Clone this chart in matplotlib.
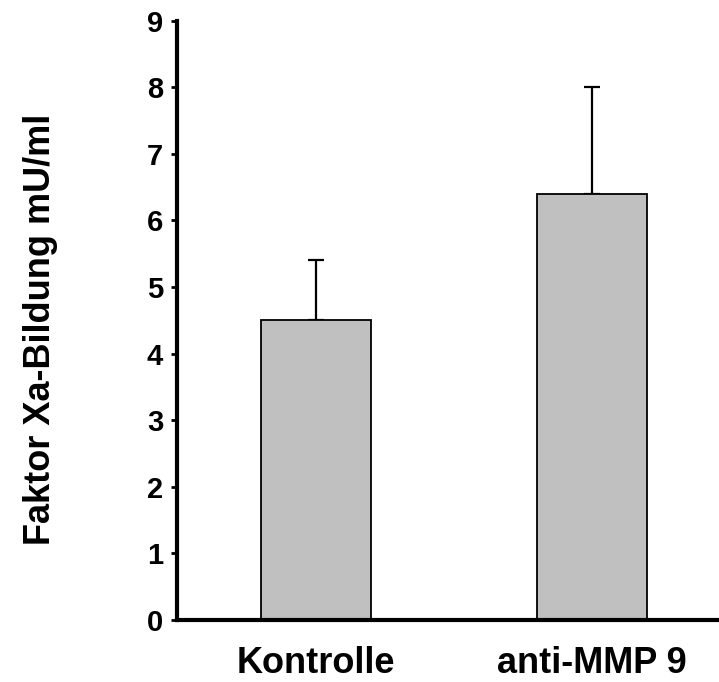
import matplotlib.pyplot as plt
import numpy as np

plt.rcParams['font.family'] = ['Liberation Sans', 'DejaVu Sans']
plt.rcParams['font.weight'] = 'bold'

categories = ['Kontrolle', 'anti-MMP 9']
values = [4.5, 6.4]
errors_up = [0.9, 1.6]
y_ticks = list(range(0, 10))

fig = plt.figure(figsize=(7.19, 6.82), dpi=100)
ax = fig.add_axes([0.2462, 0.0909, 0.7538, 0.8787])

x = np.arange(len(categories))
ax.bar(x, values, width=0.40, color='#c0c0c0', edgecolor='black', linewidth=1.3, zorder=2)
ax.errorbar(x, values, yerr=[[0] * len(values), errors_up], fmt='none',
            ecolor='black', elinewidth=1.6, capsize=5.5, capthick=1.6, zorder=1)

ax.set_xlim(-0.505, 1.46)
ax.set_ylim(0, 9)
ax.set_yticks(y_ticks)
ax.set_xticks(x)
ax.set_xticklabels(categories, fontsize=26, fontweight='bold')
ax.tick_params(axis='y', labelsize=21, width=2, length=4, pad=6)
ax.tick_params(axis='x', length=0, pad=19)
for lab in ax.get_yticklabels():
    lab.set_fontweight('bold')

ax.spines['top'].set_visible(False)
ax.spines['right'].set_visible(False)
ax.spines['left'].set_linewidth(3)
ax.spines['bottom'].set_linewidth(3)

fig.text(0.057, 0.517, 'Faktor Xa-Bildung mU/ml', rotation=90, fontsize=26,
         fontweight='bold', ha='center', va='center')

fig.savefig('out.png', dpi=100)
